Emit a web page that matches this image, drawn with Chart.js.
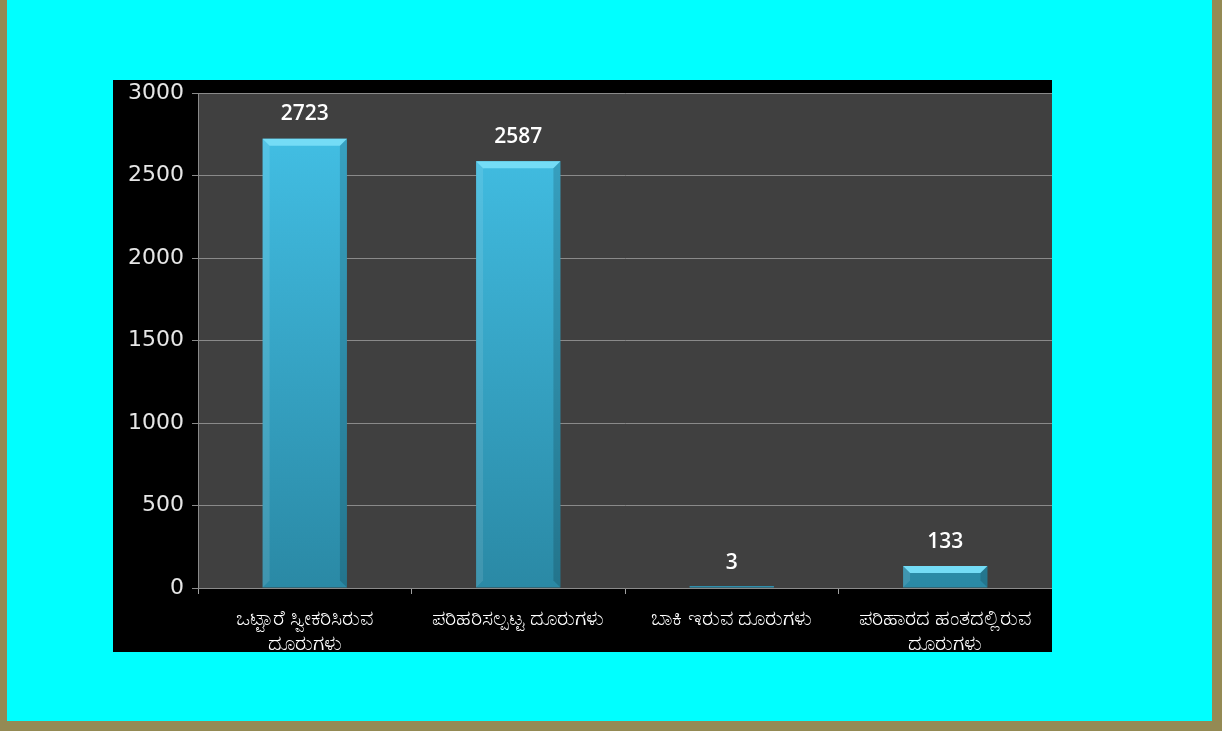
<!DOCTYPE html>
<html>
<head>
<meta charset="utf-8">
<script src="https://cdn.jsdelivr.net/npm/chart.js@4.4.0/dist/chart.umd.min.js"></script>
<style>
  html, body { margin: 0; padding: 0; }
  body {
    width: 1222px; height: 731px; position: relative; overflow: hidden;
    background: #00ffff;
  }
  /* olive frame: left, right and bottom */
  .frame { position: absolute; background: #948a54; }
  #wrap {
    position: absolute; left: 113px; top: 80px; width: 939px; height: 572px;
    background: #000;
  }
</style>
</head>
<body>
<div class="frame" style="left:0;top:0;width:7px;height:731px"></div>
<div class="frame" style="left:1212px;top:0;width:10px;height:731px"></div>
<div class="frame" style="left:0;top:721px;width:1222px;height:10px"></div>
<div id="wrap"><canvas id="barChart"></canvas></div>
<script>
// complaint counts
const categories = [
  ['ಒಟ್ಟಾರೆ ಸ್ವೀಕರಿಸಿರುವ', 'ದೂರುಗಳು'],
  'ಪರಿಹರಿಸಲ್ಪಟ್ಟ ದೂರುಗಳು',
  'ಬಾಕಿ ಇರುವ ದೂರುಗಳು',
  ['ಪರಿಹಾರದ ಹಂತದಲ್ಲಿರುವ', 'ದೂರುಗಳು']
];
const counts = [2723, 2587, 3, 133];
const yTicks = [0, 500, 1000, 1500, 2000, 2500, 3000];

// dark plot background
const plotBg = {
  id: 'plotBg',
  beforeDraw(chart) {
    const { ctx, chartArea: a } = chart;
    ctx.save();
    ctx.fillStyle = '#404040';
    ctx.fillRect(a.left, a.top, a.right - a.left, a.bottom - a.top);
    ctx.restore();
  }
};

// bevelled top + value labels
const barDeco = {
  id: 'barDeco',
  afterDatasetsDraw(chart) {
    const { ctx } = chart;
    const meta = chart.getDatasetMeta(0);
    ctx.save();
    meta.data.forEach((bar, i) => {
      const w = bar.width, l = bar.x - w / 2, r = bar.x + w / 2;
      const t = bar.y, b = bar.base;
      const h = b - t;
      const bv = Math.min(7, h / 2);
      if (h > 2) {
        // top bevel
        ctx.fillStyle = '#74dcf6';
        ctx.beginPath();
        ctx.moveTo(l, t); ctx.lineTo(r, t);
        ctx.lineTo(r - bv, t + bv); ctx.lineTo(l + bv, t + bv);
        ctx.closePath(); ctx.fill();
        // side bevels
        ctx.fillStyle = 'rgba(255,255,255,0.10)';
        ctx.beginPath();
        ctx.moveTo(l, t); ctx.lineTo(l + bv, t + bv);
        ctx.lineTo(l + bv, b - bv); ctx.lineTo(l, b);
        ctx.closePath(); ctx.fill();
        ctx.fillStyle = 'rgba(0,0,0,0.15)';
        ctx.beginPath();
        ctx.moveTo(r, t); ctx.lineTo(r - bv, t + bv);
        ctx.lineTo(r - bv, b - bv); ctx.lineTo(r, b);
        ctx.closePath(); ctx.fill();
      } else {
        ctx.fillStyle = '#2f8fad';
        ctx.fillRect(l, b - 1.5, w, 1.5);
      }
      ctx.fillStyle = '#ffffff';
      ctx.font = '600 21px "Open Sans", sans-serif';
      ctx.textAlign = 'center';
      ctx.textBaseline = 'bottom';
      ctx.fillText(String(counts[i]), bar.x, t - 14);
    });
    ctx.restore();
  }
};

const ctxBar = document.getElementById('barChart').getContext('2d');
const barChart = new Chart(ctxBar, {
  type: 'bar',
  data: {
    labels: categories,
    datasets: [{
      data: counts,
      backgroundColor(c) {
        const a = c.chart.chartArea;
        if (!a) return '#35a9cc';
        const g = c.chart.ctx.createLinearGradient(0, a.top, 0, a.bottom);
        g.addColorStop(0, '#44c3e9');
        g.addColorStop(1, '#2a89a5');
        return g;
      },
      borderWidth: 0,
      categoryPercentage: 0.79,
      barPercentage: 0.5
    }]
  },
  options: {
    responsive: true,
    maintainAspectRatio: false,
    animation: false,
    layout: { padding: { top: 13, right: 0, left: 0, bottom: 0 } },
    plugins: {
      legend: { display: false },
      tooltip: { enabled: false }
    },
    scales: {
      x: {
        grid: { display: true, drawOnChartArea: false, drawTicks: true, tickLength: 6, color: '#a0a0a0', offset: true },
        border: { color: '#8a8a8a', width: 1 },
        ticks: {
          color: '#ffffff',
          font: { family: '"Noto Sans", sans-serif', size: 21, lineHeight: 1.2 },
          maxRotation: 0, autoSkip: false, padding: 12
        },
        afterFit(s) { s.height = 64; }
      },
      y: {
        min: 0, max: 3000,
        afterBuildTicks(s) { s.ticks = yTicks.map(v => ({ value: v })); },
        grid: { color: '#8a8a8a', tickLength: 6 },
        border: { color: '#8a8a8a' },
        ticks: {
          color: '#e6e6e6',
          font: { family: '"DejaVu Sans", sans-serif', size: 22 },
          padding: 8,
          callback: v => String(v)
        },
        afterFit(s) { s.width = 85; s.paddingTop = 0; s.paddingBottom = 0; }
      }
    }
  },
  plugins: [plotBg, barDeco]
});
</script>
</body>
</html>
